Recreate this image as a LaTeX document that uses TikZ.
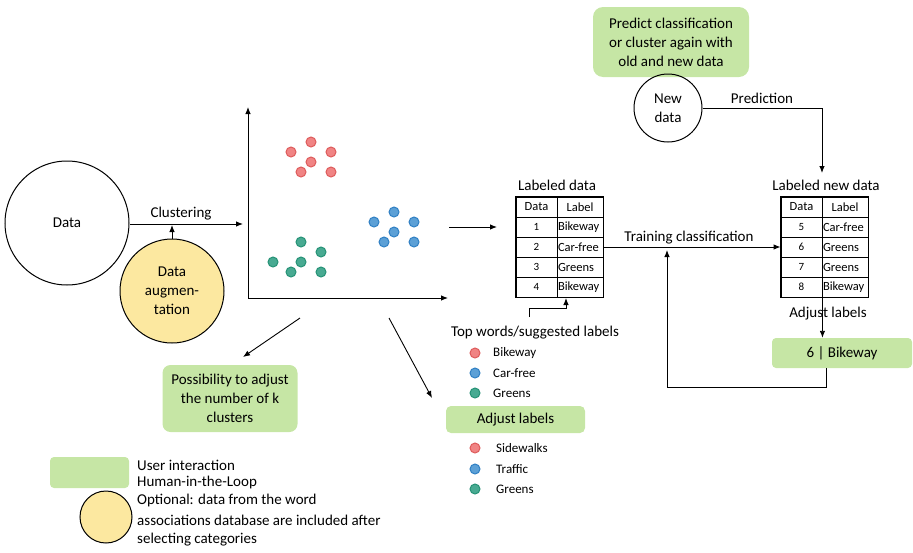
\documentclass[tikz,border=0pt]{standalone}
\usepackage{fontspec}
\setmainfont{Carlito}
\usetikzlibrary{arrows.meta,calc}

\definecolor{uigreen}{RGB}{198,230,165}
\definecolor{augyellow}{RGB}{252,232,160}
\definecolor{dotred}{RGB}{240,132,132}
\definecolor{dotredline}{RGB}{222,92,92}
\definecolor{dotblue}{RGB}{92,160,214}
\definecolor{dotblueline}{RGB}{48,128,196}
\definecolor{dotgreen}{RGB}{72,170,146}
\definecolor{dotgreenline}{RGB}{38,146,118}

\newcommand\mainsz{\fontsize{15}{19}\selectfont}
\newcommand\smallsz{\fontsize{13}{16}\selectfont}
\newcommand\cellsz{\fontsize{12.5}{14}\selectfont}
\newcommand\numsz{\fontsize{11}{13}\selectfont}

\tikzset{
  arr/.style={-{Latex[length=7pt,width=5.5pt]}, line width=0.9pt},
  txt/.style={font=\mainsz, inner sep=0pt},
  ltxt/.style={font=\smallsz, inner sep=0pt, anchor=west},
  ring/.style={circle, draw, line width=1pt, font=\mainsz, align=center, inner sep=0pt},
  uibox/.style={fill=uigreen, rounded corners=7pt, font=\mainsz, align=center, inner sep=0pt},
  dot/.style={circle, inner sep=0pt, minimum size=10pt, line width=1pt},
  rdot/.style={dot, fill=dotred, draw=dotredline},
  bdot/.style={dot, fill=dotblue, draw=dotblueline},
  gdot/.style={dot, fill=dotgreen, draw=dotgreenline},
  cellA/.style={draw, line width=0.9pt, minimum width=41pt, minimum height=20pt, inner sep=0pt, font=\numsz},
  cellB/.style={draw, line width=0.9pt, minimum width=46pt, minimum height=20pt, inner sep=1pt, text width=44pt, align=left, font=\cellsz},
  cellH/.style={draw, line width=0.9pt, minimum width=46pt, minimum height=20pt, inner sep=0pt, font=\cellsz},
  tborder/.style={draw, line width=1.6pt},
}

\begin{document}
\begin{tikzpicture}[x=1pt, y=-1pt]
\useasboundingbox (0,0) rectangle (913,552);

% --- input data and clustering
\node[ring, minimum size=124pt] (data) at (67,223) {Data};
\node[ring, fill=augyellow, minimum size=104pt] (aug) at (172,291) {Data\\augmen-\\tation};
\coordinate (clend) at (243,224);
\draw[arr] (data.east |- clend) -- (clend);
\node[txt] (cllabel) at (181,214) {Clustering};
\coordinate (augtip) at (172,225);
\draw[arr] (aug.north) -- (augtip);

% --- scatter plot of the clusters
\coordinate (origin) at (248,298);
\coordinate (ytop) at (248,107);
\coordinate (xend) at (448,298);
\draw[arr] (origin) -- (ytop);
\draw[arr] (origin) -- (xend);
\foreach \px/\py in {311/142, 291/152, 331/152, 311/162, 301/172, 331/172}
  \node[rdot] at (\px,\py) {};
\foreach \px/\py in {394/212, 374/222, 414/222, 394/232, 384/242, 414/242}
  \node[bdot] at (\px,\py) {};
\foreach \px/\py in {301/242, 321/252, 273/262, 301/262, 291/272, 321/272}
  \node[gdot] at (\px,\py) {};

% --- labeled data table
\foreach \r/\a/\b in {1/1/Bikeway, 2/2/Car-free, 3/3/Greens, 4/4/Bikeway} {
  \node[cellA] (ld-\r-1) at (536.5,207+20*\r) {\a};
  \node[cellB] (ld-\r-2) at (580,207+20*\r) {\b};
}
\node[cellA, font=\cellsz] (ld-0-1) at (536.5,207) {Data};
\node[cellH] (ld-0-2) at (580,207) {Label};
\draw[tborder] (ld-0-1.north west) rectangle (ld-4-2.south east);
\node[txt] (ldtitle) at (557,185) {Labeled data};
\coordinate (tabin0) at (449,227);
\coordinate (tabin1) at (497,227);
\draw[arr] (tabin0) -- (tabin1);

% --- labeled new data table
\foreach \r/\a/\b in {1/5/Car-free, 2/6/Greens, 3/7/Greens, 4/8/Bikeway} {
  \node[cellA] (rd-\r-1) at (801.5,207+20*\r) {\a};
  \node[cellB] (rd-\r-2) at (845,207+20*\r) {\b};
}
\node[cellA, font=\cellsz] (rd-0-1) at (801.5,207) {Data};
\node[cellH] (rd-0-2) at (845,207) {Label};
\draw[tborder] (rd-0-1.north west) rectangle (rd-4-2.south east);
\node[txt] (rdtitle) at (826,185) {Labeled new data};

% --- training classification
\draw[arr] (ld-2-2.east) -- (rd-2-1.west);
\node[txt] (trlabel) at (689,238) {Training classification};

% --- prediction of new data
\node[uibox, minimum width=156pt, minimum height=70pt, rounded corners=10pt] (pred) at (671,42)
  {Predict classification\\or cluster again with\\old and new data};
\node[ring, minimum size=68pt] (new) at (668,108) {New\\data};
\coordinate (predtip) at (822,173);
\draw[arr] (new.east) -| (predtip);
\node[txt] (prlabel) at (762,98) {Prediction};

% --- label adjustment and feedback loop
\node[uibox, minimum width=140pt, minimum height=30pt, rounded corners=4pt] (adj) at (842,353) {6 | Bikeway};
\draw[arr] (rd-4-1.south east) -- (rd-4-1.south east |- adj.north);
\node[txt] (adjlabel) at (828,314) {Adjust labels};
\coordinate (fbx) at (826,0);
\coordinate (fbcorner) at (667,387);
\coordinate (fbtip) at (667,250);
\draw[arr] (adj.south -| fbx) |- (fbcorner) -- (fbtip);

% --- suggested labels
\coordinate (tw0) at (529,317);
\coordinate (twtip) at (566,298);
\draw[arr] (tw0) -- ++(0,-9) -| (twtip);
\node[txt] (tw) at (535,333) {Top words/suggested labels};
\node[rdot] (s1) at (475,353) {};
\node[bdot] (s2) at (475,373) {};
\node[gdot] (s3) at (475,393) {};
\node[ltxt] at (493,353) {Bikeway};
\node[ltxt] at (493,373) {Car-free};
\node[ltxt] at (493,393) {Greens};
\node[uibox, minimum width=139pt, minimum height=27pt, rounded corners=5pt] (adjl) at (515.5,419.5) {Adjust labels};
\node[rdot] (t1) at (475,448) {};
\node[bdot] (t2) at (475,469) {};
\node[gdot] (t3) at (475,489) {};
\node[ltxt] at (496,448) {Sidewalks};
\node[ltxt] at (496,469) {Traffic};
\node[ltxt] at (496,489) {Greens};

% --- user interactions on the clustering
\coordinate (d1s) at (300,318);
\coordinate (d1e) at (243,357);
\draw[arr] (d1s) -- (d1e);
\coordinate (d2s) at (389,318);
\coordinate (d2e) at (432,398);
\draw[arr] (d2s) -- (d2e);
\node[uibox, minimum width=135pt, minimum height=67pt, rounded corners=8pt] (poss) at (230,398.5)
  {Possibility to adjust\\the number of k\\clusters};

% --- legend
\node[uibox, minimum width=79pt, minimum height=31pt, rounded corners=4pt] (lg1) at (89.5,472.5) {};
\node[txt, anchor=west] at (137,465) {User interaction};
\node[txt, anchor=west] at (137,482) {Human-in-the-Loop};
\node[ring, fill=augyellow, minimum size=52pt] (lg2) at (106,517) {};
\node[txt, anchor=west] at (137,500) {Optional: data from the word};
\node[txt, anchor=west] at (137,520) {associations database are included after};
\node[txt, anchor=west] at (137,540) {selecting categories};
\end{tikzpicture}
\end{document}
